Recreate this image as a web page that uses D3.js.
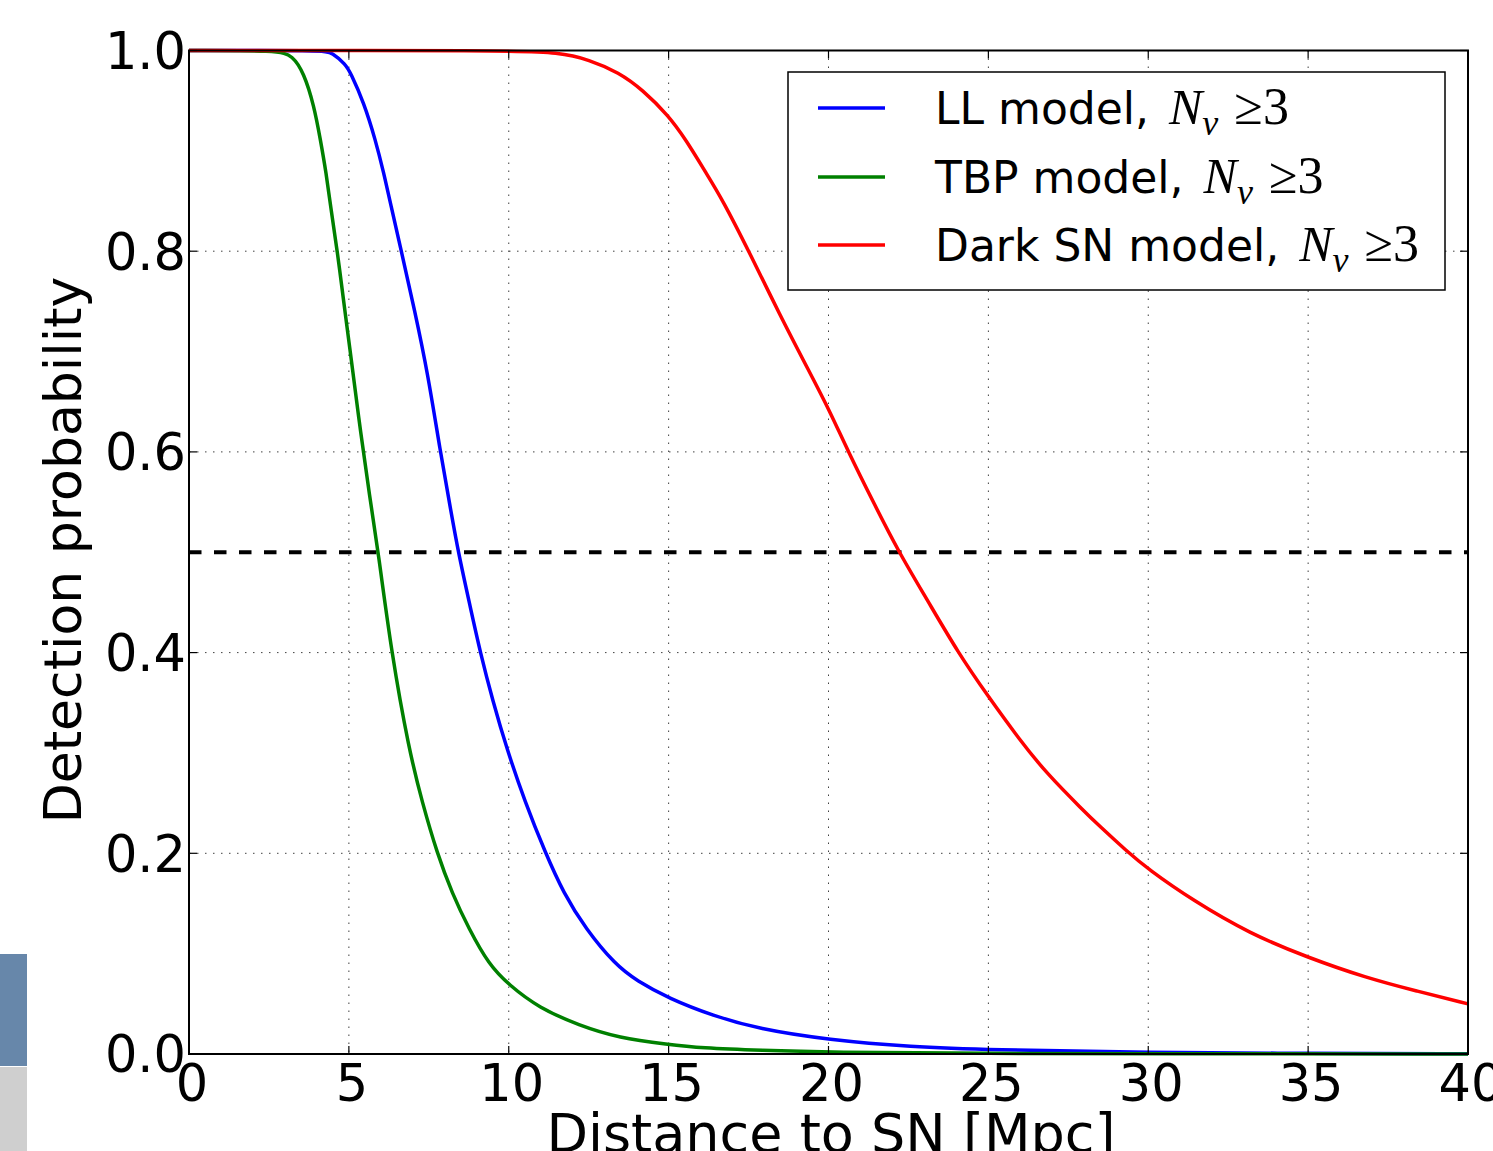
<!DOCTYPE html>
<html>
<head>
<meta charset="utf-8">
<script src="https://cdn.jsdelivr.net/npm/d3@7"></script>
<style>
  body { margin: 0; background: #fff; }
  text { font-family: "DejaVu Sans", sans-serif; fill: #000; }
</style>
</head>
<body>
<div id="chart"></div>
<script>
// values
const llX  = [0, 4.2, 4.48, 4.9, 5.05, 5.47, 5.83, 6.09, 6.3, 6.64, 7.05, 7.47, 7.86, 8.17, 8.42, 8.8, 9.11, 9.5, 9.95, 10.5, 11.15, 11.72, 12.4, 13.33, 14.0, 15.0, 16.4, 17.8, 20, 22.6, 25, 30, 35, 40];
const llY  = [1, 1, 0.998, 0.986, 0.978, 0.948, 0.911, 0.878, 0.848, 0.80, 0.742, 0.678, 0.60, 0.545, 0.50, 0.445, 0.40, 0.352, 0.303, 0.252, 0.20, 0.16, 0.125, 0.089, 0.073, 0.0555, 0.038, 0.025, 0.014, 0.007, 0.0042, 0.0015, 0.0006, 0.0002];

const tbpX = [0, 2.8, 3.23, 3.59, 3.91, 4.11, 4.29, 4.43, 4.64, 4.86, 5.0, 5.3, 5.66, 5.92, 6.33, 6.88, 7.3, 7.76, 8.23, 8.75, 9.38, 10.0, 10.94, 12.2, 13.44, 15.0, 16.0, 17.9, 20, 25, 30, 40];
const tbpY = [1, 1, 0.995, 0.978, 0.945, 0.911, 0.878, 0.844, 0.80, 0.744, 0.711, 0.635, 0.553, 0.50, 0.40, 0.303, 0.25, 0.20, 0.16, 0.125, 0.089, 0.069, 0.046, 0.0285, 0.016, 0.0095, 0.006, 0.0035, 0.0017, 0.0005, 0.0002, 0.0001];

const darkX = [0, 10, 11.57, 12.51, 13.45, 14.18, 15.0, 15.54, 16.17, 16.69, 17.51, 18.47, 19.4, 20.02, 20.62, 21.4, 22.2, 23.08, 24.05, 25.0, 25.98, 26.81, 27.96, 28.48, 29.3, 30.0, 31.4, 33.17, 35.0, 36.81, 38.39, 40];
const darkY = [1, 1, 0.998, 0.991, 0.978, 0.961, 0.935, 0.911, 0.878, 0.851, 0.80, 0.737, 0.68, 0.642, 0.60, 0.55, 0.50, 0.453, 0.40, 0.356, 0.313, 0.280, 0.243, 0.227, 0.203, 0.184, 0.153, 0.120, 0.096, 0.076, 0.0627, 0.050];

const xTicks = [0, 5, 10, 15, 20, 25, 30, 35, 40];
const yTicks = [0, 0.2, 0.4, 0.6, 0.8, 1.0];
const threshold = 0.5;

const seriesNames = ['LL model, ', 'TBP model, ', 'Dark SN model, '];
const seriesColors = ['#0000ff', '#008000', '#ff0000'];

const W = 1493, H = 1151;
const plot = { left: 189, right: 1468, top: 50.5, bottom: 1054 };

const svg = d3.select('#chart').append('svg')
  .attr('width', W).attr('height', H);

svg.append('rect').attr('width', W).attr('height', H).attr('fill', '#fff');

// bits of the page behind the figure, bottom left
svg.append('rect').attr('x', 0).attr('y', 954).attr('width', 27).attr('height', 112).attr('fill', '#6787aa');
svg.append('rect').attr('x', 0).attr('y', 1067).attr('width', 27).attr('height', 84).attr('fill', '#cfcfcf');

const x = d3.scaleLinear().domain([0, 40]).range([plot.left, plot.right]);
const y = d3.scaleLinear().domain([0, 1]).range([plot.bottom, plot.top]);

// grid
const grid = svg.append('g');
grid.selectAll('.gx').data(xTicks.slice(1, -1)).join('line')
  .attr('x1', d => x(d)).attr('x2', d => x(d))
  .attr('y1', plot.top).attr('y2', plot.bottom)
  .attr('stroke', '#000').attr('stroke-width', 1).attr('stroke-opacity', 0.75)
  .attr('stroke-dasharray', '1.5,6.5');
grid.selectAll('.gy').data(yTicks.slice(1, -1)).join('line')
  .attr('y1', d => y(d)).attr('y2', d => y(d))
  .attr('x1', plot.left).attr('x2', plot.right)
  .attr('stroke', '#000').attr('stroke-width', 1).attr('stroke-opacity', 0.75)
  .attr('stroke-dasharray', '1.5,6.5');

// threshold line
svg.append('line')
  .attr('x1', x(0)).attr('x2', x(40))
  .attr('y1', y(threshold)).attr('y2', y(threshold))
  .attr('stroke', '#000').attr('stroke-width', 4)
  .attr('stroke-dasharray', '12.5,12.5');

// curves
const line = d3.line().x(d => x(d[0])).y(d => y(d[1])).curve(d3.curveBasis);
const series = [
  d3.zip(llX, llY),
  d3.zip(tbpX, tbpY),
  d3.zip(darkX, darkY)
];
svg.append('g').selectAll('path').data(series).join('path')
  .attr('d', line)
  .attr('fill', 'none')
  .attr('stroke', (d, i) => seriesColors[i])
  .attr('stroke-width', 3.5)
  .attr('stroke-linejoin', 'round');

// inward ticks on all four sides
const tickLen = 8;
const ticks = svg.append('g').attr('stroke', '#000').attr('stroke-width', 1.2);
xTicks.forEach(t => {
  ticks.append('line').attr('x1', x(t)).attr('x2', x(t)).attr('y1', plot.bottom).attr('y2', plot.bottom - tickLen);
  ticks.append('line').attr('x1', x(t)).attr('x2', x(t)).attr('y1', plot.top).attr('y2', plot.top + tickLen);
});
yTicks.forEach(t => {
  ticks.append('line').attr('y1', y(t)).attr('y2', y(t)).attr('x1', plot.left).attr('x2', plot.left + tickLen);
  ticks.append('line').attr('y1', y(t)).attr('y2', y(t)).attr('x1', plot.right).attr('x2', plot.right - tickLen);
});

// frame
svg.append('rect')
  .attr('x', plot.left).attr('y', plot.top)
  .attr('width', plot.right - plot.left).attr('height', plot.bottom - plot.top)
  .attr('fill', 'none').attr('stroke', '#000').attr('stroke-width', 2);

// tick labels
svg.append('g').selectAll('text').data(xTicks).join('text')
  .attr('x', d => x(d) + 3).attr('y', 1101)
  .attr('text-anchor', 'middle')
  .style('font-size', '51px')
  .text(d => d);

svg.append('g').selectAll('text').data(yTicks).join('text')
  .attr('x', 186).attr('y', d => y(d))
  .attr('dy', '0.36em')
  .attr('text-anchor', 'end')
  .style('font-size', '51px')
  .text(d => d3.format('.1f')(d));

// axis titles
svg.append('text')
  .attr('x', 831).attr('y', 1152)
  .attr('text-anchor', 'middle')
  .style('font-size', '54px')
  .text('Distance to SN [Mpc]');

svg.append('text')
  .attr('transform', 'translate(81,550) rotate(-90)')
  .attr('text-anchor', 'middle')
  .style('font-size', '52px')
  .text('Detection probability');

// legend
const legend = svg.append('g');
legend.append('rect')
  .attr('x', 788).attr('y', 72).attr('width', 657).attr('height', 218)
  .attr('fill', '#fff').attr('stroke', '#000').attr('stroke-width', 1.5);

const rowY = [108, 177, 245];
seriesNames.forEach((name, i) => {
  legend.append('line')
    .attr('x1', 818).attr('x2', 885)
    .attr('y1', rowY[i]).attr('y2', rowY[i])
    .attr('stroke', seriesColors[i]).attr('stroke-width', 3.5);
  const t = legend.append('text')
    .attr('x', 935).attr('y', rowY[i] + 16)
    .style('font-size', '44px');
  t.append('tspan').text(name);
  t.append('tspan')
    .attr('dx', 6)
    .style('font-family', '"Liberation Serif", serif')
    .style('font-style', 'italic')
    .style('font-size', '50px')
    .text('N');
  t.append('tspan')
    .attr('dy', 11)
    .style('font-family', '"Liberation Serif", serif')
    .style('font-style', 'italic')
    .style('font-size', '36px')
    .text('ν');
  t.append('tspan')
    .attr('dy', -11).attr('dx', 16)
    .style('font-family', '"Liberation Serif", serif')
    .style('font-size', '52px')
    .text('≥3');
});
</script>
</body>
</html>
